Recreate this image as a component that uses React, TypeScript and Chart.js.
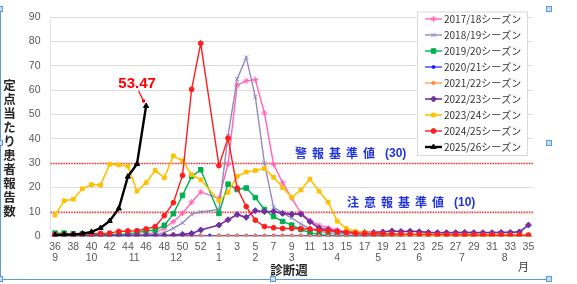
import React, { useEffect, useRef } from 'react';
import { Chart, registerables } from 'chart.js';
import { drawPoint } from 'chart.js/helpers';

Chart.register(...registerables);

// ---- data ----
const weeks = [36, 37, 38, 39, 40, 41, 42, 43, 44, 45, 46, 47, 48, 49, 50, 51, 52, 53,
  1, 2, 3, 4, 5, 6, 7, 8, 9, 10, 11, 12, 13, 14, 15, 16, 17, 18, 19, 20, 21, 22, 23, 24, 25,
  26, 27, 28, 29, 30, 31, 32, 33, 34, 35];

const monthLabels = ['9', '10', '11', '12', '1', '2', '3', '4', '5', '6', '7', '8'];
// category index (week position) under which each month label sits
const monthAnchors = [0, 4, 8.7, 13.3, 18, 22, 26, 31, 35.5, 40, 44.7, 49.4];

const seasonLabels = ['2017/18シーズン', '2018/19シーズン', '2019/20シーズン', '2020/21シーズン',
  '2021/22シーズン', '2022/23シーズン', '2023/24シーズン', '2024/25シーズン', '2025/26シーズン'];

const s1718 = [0.3, 0.3, 0.3, 0.3, 0.4, 0.4, 0.5, 0.5, 0.6, 0.8, 1.0, 1.5, 3.3, 6.0, 9.5, 14.0, 18.2, null,
  15.5, 29.6, 62.0, 63.8, 64.3, 50.6, 29.6, 22.0, 15.7, 9.5, 6.5, 4.5, 3.5, 2.5, 2.0, 1.5, 1.2, 1.0, 0.9,
  0.8, 0.7, 0.7, 0.6, 0.6, 0.5, 0.5, 0.5, 0.4, 0.4, 0.4, 0.3, 0.3, 0.3, 0.3, 0.3];
const s1819 = [0.2, 0.2, 0.2, 0.2, 0.3, 0.3, 0.3, 0.3, 0.3, 0.4, 0.5, 0.8, 1.5, 3.3, 5.5, 9.0, 10.0, null,
  11.0, 41.2, 64.5, 73.4, 57.2, 30.0, 12.0, 9.6, 7.5, 5.1, 3.0, 2.0, 1.5, 1.2, 1.0, 0.9, 0.8, 0.7, 0.7,
  0.6, 0.6, 0.6, 0.5, 0.5, 0.5, 0.5, 0.4, 0.4, 0.4, 0.4, 0.4, 0.4, 0.4, 0.4, 0.4];
const s1920 = [1.3, 1.3, 1.0, 1.0, 0.8, 0.8, 0.8, 0.9, 1.0, 1.5, 2.2, 2.6, 4.5, 9.3, 16.8, 24.6, 27.3, null,
  9.4, 21.4, 19.2, 19.8, 15.9, 11.0, 8.1, 6.1, 4.6, 2.8, 1.5, 0.7, 0.4, 0.3, 0.2, 0.2, 0.2, 0.2, 0.2,
  0.2, 0.2, 0.2, 0.2, 0.2, 0.2, 0.2, 0.2, 0.2, 0.2, 0.2, 0.2, 0.2, 0.2, 0.2, 0.2];
const s2021 = [0.3, 0.3, 0.3, 0.3, 0.3, 0.3, 0.3, 0.3, 0.3, 0.3, 0.3, 0.3, 0.3, 0.3, 0.3, 0.3, 0.3, 0.3,
  0.3, 0.3, 0.3, 0.3, 0.3, 0.3, 0.3, 0.3, 0.3, 0.3, 0.3, 0.3, 0.3, 0.3, 0.3, 0.3, 0.3, 0.3, 0.3,
  0.3, 0.3, 0.3, 0.3, 0.3, 0.3, 0.3, 0.3, 0.3, 0.3, 0.3, 0.3, 0.3, 0.3, 0.3, 0.3];
const s2122 = [0.1, 0.1, 0.1, 0.1, 0.1, 0.1, 0.1, 0.1, 0.1, 0.1, 0.1, 0.1, 0.1, 0.1, 0.1, 0.1, 0.1, null,
  0.1, 0.1, 0.1, 0.1, 0.1, 0.1, 0.1, 0.1, 0.1, 0.1, 0.1, 0.1, 0.1, 0.1, 0.1, 0.1, 0.1, 0.1, 0.1,
  0.1, 0.1, 0.1, 0.1, 0.1, 0.1, 0.1, 0.1, 0.1, 0.1, 0.1, 0.1, 0.1, 0.1, 0.1, 0.1];
const s2223 = [0.2, 0.2, 0.2, 0.2, 0.2, 0.2, 0.3, 0.3, 0.3, 0.3, 0.3, 0.3, 0.4, 0.5, 0.8, 1.2, 2.6, null,
  4.6, 6.8, 8.9, 7.8, 10.5, 10.2, 10.2, 9.4, 9.1, 9.1, 6.0, 3.3, 2.7, 2.0, 1.7, 1.6, 1.6, 1.6, 1.8,
  2.2, 2.0, 2.1, 1.9, 1.6, 1.5, 1.5, 1.5, 1.6, 1.5, 1.5, 1.5, 1.6, 1.6, 1.8, 4.6];
const s2324 = [8.7, 14.6, 15.2, 19.5, 21.2, 21.0, 29.6, 29.3, 28.8, 18.5, 22.0, 27.0, 24.0, 33.0, 31.0, 25.3, 23.2, null,
  14.6, 18.0, 24.6, 26.4, 27.0, 27.8, 24.2, 20.0, 16.0, 19.0, 23.5, 18.5, 14.0, 6.2, 3.2, 2.0, 1.5, 1.2, 1.0,
  0.8, 0.7, 0.6, 0.6, 0.5, 0.5, 0.5, 0.5, 0.5, 0.5, 0.5, 0.5, 0.5, 0.5, 0.5, 0.5];
const s2425 = [0.8, 0.8, 0.9, 1.0, 1.1, 1.2, 1.3, 2.0, 2.2, 2.3, 3.0, 4.0, 8.5, 13.8, 25.0, 60.3, 79.2, null,
  29.0, 40.3, 19.8, 12.2, 6.6, 4.0, 3.5, 3.2, 3.2, 3.1, 3.0, 2.5, 2.3, 2.0, 1.6, 1.3, 1.2, 1.1, 1.0,
  1.0, 0.9, 0.9, 0.8, 0.8, 0.7, 0.7, 0.6, 0.6, 0.6, 0.5, 0.5, 0.5, 0.5, 0.5, 0.5];
const s2526 = [0.5, 0.7, 0.8, 1.1, 1.8, 3.4, 6.3, 11.4, 24.5, 29.7, 53.47];

const seriesValues = [s1718, s1819, s1920, s2021, s2122, s2223, s2324, s2425, s2526];

const thresholdValues = [30, 10];
const thresholdChars = ['警報基準値', '注意報基準値'];
const thresholdTails = ['(30)', '(10)'];

const yTitle = '定点当たり患者報告数';
const xTitle = '診断週';
const monthUnit = '月';
const latestLabel = '53.47';

// ---- styles ----
const colors = ['#FF66B8', '#9488BC', '#00B050', '#1A1AFF', '#FF8A3D', '#7030A0', '#FFC000', '#FF1E1E', '#000000'];
const pStyles = ['star', 'crossRot', 'rect', 'circle', 'circle', 'rectRot', 'rect', 'circle', 'triangle'];
const pRadius = [3, 3, 3.2, 1.5, 1.6, 3, 2.6, 2.4, 3];
const lWidths = [1.4, 1.4, 1.4, 1.2, 1.2, 1.6, 1.6, 1.4, 2.4];
const drawOrder = [8, 7, 6, 5, 4, 3, 2, 1, 0];

const CJK = '"Noto Sans CJK JP", sans-serif';
const LAT = '"Liberation Sans", Arial, sans-serif';

const overlayPlugin = {
  id: 'overlayPlugin',
  beforeDatasetsDraw(chart: any) {
    const { ctx, chartArea: a } = chart;
    const y = chart.scales.y;
    ctx.save();
    ctx.strokeStyle = '#FF2A2A';
    ctx.lineWidth = 1.6;
    ctx.setLineDash([1.4, 1.2]);
    thresholdValues.forEach((v) => {
      const py = Math.round(y.getPixelForValue(v)) + 0.5;
      ctx.beginPath();
      ctx.moveTo(a.left, py);
      ctx.lineTo(a.right, py);
      ctx.stroke();
    });
    ctx.restore();
  },
  afterDatasetsDraw(chart: any) {
    const { ctx, chartArea: a } = chart;
    const x = chart.scales.x;
    const y = chart.scales.y;
    ctx.save();

    // threshold labels
    const starts = [295, 347];
    const offs = [10, 9];
    ctx.fillStyle = '#2233DD';
    ctx.textBaseline = 'middle';
    ctx.textAlign = 'left';
    thresholdValues.forEach((v, k) => {
      const py = y.getPixelForValue(v) - offs[k];
      ctx.font = 'bold 12px ' + CJK;
      const chars = thresholdChars[k].split('');
      chars.forEach((c, i) => ctx.fillText(c, starts[k] + i * 17, py));
      ctx.font = 'bold 12px ' + LAT;
      ctx.fillText(thresholdTails[k], starts[k] + chars.length * 17 + 5, py);
    });

    // latest value annotation
    const bi = seriesValues.length - 1;
    const meta = chart.getDatasetMeta(bi);
    const last = meta.data[s2526.length - 1];
    if (last) {
      const px = last.x, pyy = last.y;
      ctx.fillStyle = '#FF0000';
      ctx.font = 'bold 15px ' + LAT;
      ctx.textAlign = 'center';
      ctx.fillText(latestLabel, px - 9, pyy - 22);
      ctx.strokeStyle = '#FF0000';
      ctx.lineWidth = 1.2;
      ctx.beginPath();
      ctx.moveTo(px - 7.5, pyy - 15);
      ctx.lineTo(px - 3, pyy - 6);
      ctx.stroke();
      ctx.beginPath();
      ctx.arc(px - 2.5, pyy - 5, 1.8, 0, Math.PI * 2);
      ctx.fill();
    }

    // month labels
    ctx.fillStyle = '#595959';
    ctx.font = '10.5px ' + LAT;
    ctx.textAlign = 'center';
    monthLabels.forEach((m, i) => {
      ctx.fillText(m, x.getPixelForValue(monthAnchors[i]), a.bottom + 21.5);
    });
    ctx.font = '11px ' + CJK;
    ctx.fillStyle = '#404040';
    ctx.fillText(monthUnit, x.getPixelForValue(weeks.length - 1) - 5, a.bottom + 31);

    // axis titles
    ctx.fillStyle = '#262626';
    ctx.font = 'bold 12.5px ' + CJK;
    ctx.fillText(xTitle, 289, a.bottom + 34);
    yTitle.split('').forEach((c, i) => ctx.fillText(c, 9.5, 85 + i * 14));

    // legend
    const lx = 417, ly = 11.5, lw = 110, lh = 143.5;
    ctx.fillStyle = '#FFFFFF';
    ctx.fillRect(lx, ly, lw, lh);
    ctx.strokeStyle = '#D9D9D9';
    ctx.lineWidth = 1;
    ctx.strokeRect(lx + 0.5, ly + 0.5, lw, lh);
    seasonLabels.forEach((lab, i) => {
      const cy = 19 + i * 16;
      ctx.strokeStyle = colors[i];
      ctx.fillStyle = colors[i];
      ctx.lineWidth = lWidths[i];
      ctx.beginPath();
      ctx.moveTo(425, cy);
      ctx.lineTo(442, cy);
      ctx.stroke();
      ctx.lineWidth = 1;
      drawPoint(ctx, { pointStyle: pStyles[i], radius: pRadius[i], borderWidth: 1, rotation: 0 } as any, 433.5, cy);
      ctx.fillStyle = '#333333';
      ctx.font = '10px ' + CJK;
      ctx.textAlign = 'left';
      ctx.fillText(lab, 444, cy + 0.5);
    });

    // selection frame
    ctx.strokeStyle = '#5B9BD5';
    ctx.lineWidth = 1;
    ctx.beginPath();
    ctx.moveTo(0.5, 8);
    ctx.lineTo(0.5, 279.5);
    ctx.lineTo(548, 279.5);
    ctx.stroke();
    ctx.fillStyle = '#C9DDF2';
    [[549, 9], [549, 143], [549, 279], [273, 279], [0, 9], [0, 143], [0, 279]].forEach(([hx, hy]) => {
      ctx.fillRect(hx - 2.5, hy - 2.5, 5, 5);
      ctx.strokeRect(hx - 2.5, hy - 2.5, 5, 5);
    });

    ctx.restore();
  },
};

export default function App() {
  const ref = useRef<HTMLCanvasElement | null>(null);

  useEffect(() => {
    if (!ref.current) return;
    const datasets = seriesValues.map((vals, i) => ({
      label: seasonLabels[i],
      data: vals,
      borderColor: colors[i],
      backgroundColor: colors[i],
      pointBackgroundColor: colors[i],
      pointBorderColor: colors[i],
      pointStyle: pStyles[i],
      pointRadius: pRadius[i],
      pointBorderWidth: 1,
      borderWidth: lWidths[i],
      tension: 0,
      spanGaps: true,
      order: drawOrder[i],
      fill: false,
    }));

    const chart = new Chart(ref.current, {
      type: 'line',
      data: { labels: weeks.map(String), datasets },
      options: {
        animation: false,
        responsive: false,
        maintainAspectRatio: false,
        events: [],
        layout: { padding: { left: 0, right: 44, top: 17, bottom: 0 } },
        plugins: { legend: { display: false }, tooltip: { enabled: false } },
        scales: {
          x: {
            type: 'category',
            offset: true,
            grid: { display: false, drawTicks: false },
            border: { display: false },
            ticks: {
              autoSkip: false,
              maxRotation: 0,
              minRotation: 0,
              padding: 5,
              color: '#595959',
              font: { size: 10.5, family: LAT },
              callback: (_v: any, i: number) => (i % 2 === 0 ? String(weeks[i]) : ''),
            },
            afterFit: (s: any) => { s.height = 47.7; },
          },
          y: {
            min: 0,
            max: 90,
            ticks: { stepSize: 10, color: '#595959', padding: 10, font: { size: 10.5, family: LAT } },
            grid: { color: '#DCDCDC', drawTicks: false },
            border: { display: true, color: '#E3E3E3' },
            afterFit: (s: any) => { s.width = 50.5; },
          },
        },
      } as any,
      plugins: [overlayPlugin],
    });
    return () => chart.destroy();
  }, []);

  return (
    <div style={{ position: 'absolute', left: 0, top: 0, width: 577, height: 284, background: '#fff' }}>
      <canvas ref={ref} width={577} height={284} style={{ display: 'block' }} />
    </div>
  );
}
